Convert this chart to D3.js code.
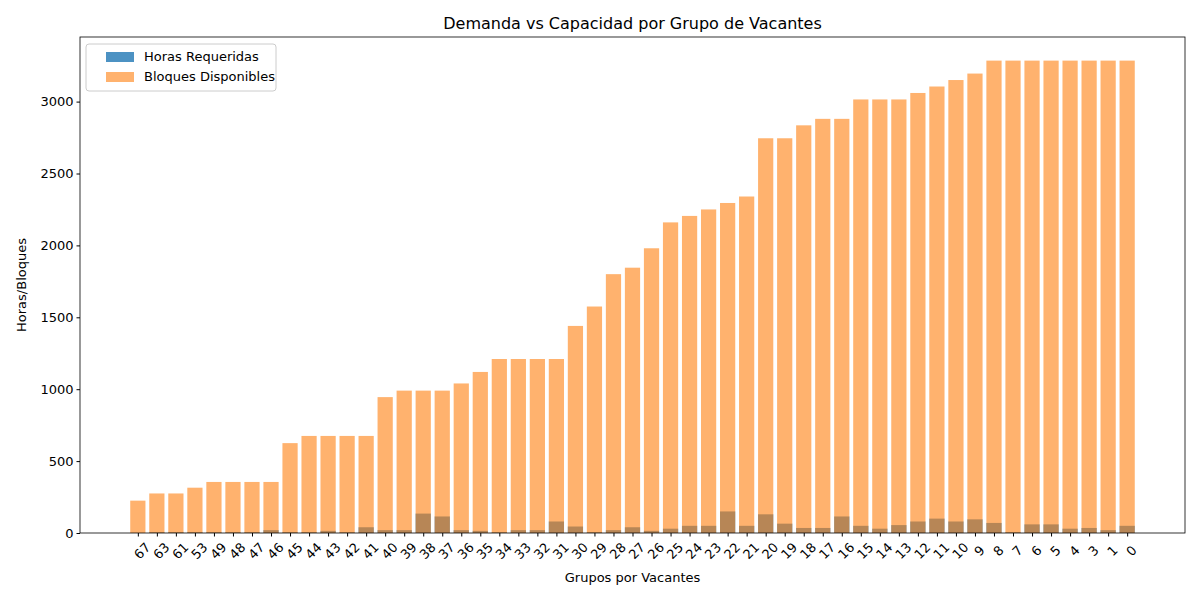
<!DOCTYPE html>
<html lang="es">
<head>
<meta charset="UTF-8">
<title>Demanda vs Capacidad</title>
<script src="https://cdn.jsdelivr.net/npm/d3@7"></script>
</head>
<body style="margin:0;padding:0;background:#fff">
<svg id="chart" width="1200" height="600"></svg>
<script>
var grupos = ["67","63","61","53","49","48","47","46","45","44","43","42","41","40","39","38","37","36","35","34","33","32","31","30","29","28","27","26","25","24","23","22","21","20","19","18","17","16","15","14","13","12","11","10","9","8","7","6","5","4","3","1","0"];
var horasRequeridas = [0,5,5,5,5,5,5,20,5,5,15,5,40,20,20,135,115,20,15,5,20,20,80,45,5,20,40,15,30,50,50,150,50,130,65,35,35,115,50,30,55,80,100,80,95,70,5,60,60,30,35,20,50];
var bloquesDisponibles = [225,275,275,315,355,355,355,355,625,675,675,675,675,945,990,990,990,1040,1120,1210,1210,1210,1210,1440,1575,1800,1845,1980,2160,2205,2250,2295,2340,2745,2745,2835,2880,2880,3015,3015,3015,3060,3105,3150,3195,3285,3285,3285,3285,3285,3285,3285,3285];
var yTicks = [0,500,1000,1500,2000,2500,3000];

var svg = d3.select("#chart");
var mLeft = 80, mRight = 1185, mTop = 37, mBottom = 533;
var n = grupos.length;
var span = (n - 1 + 0.8);
var x = d3.scaleLinear().domain([-0.4 - span*0.05, n - 1 + 0.4 + span*0.05]).range([mLeft, mRight]);
var y = d3.scaleLinear().domain([0, d3.max(bloquesDisponibles) * 1.05]).range([mBottom, mTop]);
var bw = x(0.8) - x(0);

svg.append("g").selectAll("rect").data(horasRequeridas).join("rect")
    .attr("x", function(d, i) { return x(i - 0.4); })
    .attr("width", bw)
    .attr("y", function(d) { return y(d); })
    .attr("height", function(d) { return mBottom - y(d); })
    .attr("fill", "#1f77b4").attr("fill-opacity", 0.8);

svg.append("g").selectAll("rect").data(bloquesDisponibles).join("rect")
    .attr("x", function(d, i) { return x(i - 0.4); })
    .attr("width", bw)
    .attr("y", function(d) { return y(d); })
    .attr("height", function(d) { return mBottom - y(d); })
    .attr("fill", "#ff7f0e").attr("fill-opacity", 0.6);

// axes
var xAxis = d3.axisBottom(x).tickValues(d3.range(n)).tickFormat(function(i) { return grupos[i]; }).tickSize(3.5).tickSizeOuter(0);
var gx = svg.append("g").attr("transform", "translate(0," + mBottom + ")").call(xAxis);
gx.select(".domain").remove();
gx.selectAll("text").attr("font-family", "DejaVu Sans").attr("font-size", 13).attr("fill", "#000")
    .attr("text-anchor", "middle")
    .attr("transform", "translate(-4,10) rotate(-45)");

var gy = svg.append("g").attr("transform", "translate(" + mLeft + ",0)")
    .call(d3.axisLeft(y).tickValues(yTicks).tickFormat(d3.format("d")).tickSize(3.5).tickSizeOuter(0));
gy.select(".domain").remove();
gy.selectAll("text").attr("font-family", "DejaVu Sans").attr("font-size", 13).attr("fill", "#000");

svg.append("rect").attr("x", mLeft).attr("y", mTop).attr("width", mRight - mLeft).attr("height", mBottom - mTop)
    .attr("fill", "none").attr("stroke", "#000").attr("stroke-width", 0.8);

svg.append("text").attr("x", (mLeft + mRight) / 2).attr("y", 29).attr("text-anchor", "middle")
    .attr("font-family", "DejaVu Sans").attr("font-size", 16).text("Demanda vs Capacidad por Grupo de Vacantes");
svg.append("text").attr("x", (mLeft + mRight) / 2).attr("y", 582).attr("text-anchor", "middle")
    .attr("font-family", "DejaVu Sans").attr("font-size", 13).text("Grupos por Vacantes");
svg.append("text").attr("transform", "translate(26," + ((mTop + mBottom) / 2) + ") rotate(-90)").attr("text-anchor", "middle")
    .attr("font-family", "DejaVu Sans").attr("font-size", 13).text("Horas/Bloques");

// legend
var lg = svg.append("g").attr("transform", "translate(86,44)");
lg.append("rect").attr("width", 190).attr("height", 47).attr("rx", 3).attr("fill", "#fff").attr("fill-opacity", 0.8).attr("stroke", "#ccc");
[["Horas Requeridas", "#1f77b4", 0.8], ["Bloques Disponibles", "#ff7f0e", 0.6]].forEach(function(e, i) {
    lg.append("rect").attr("x", 20).attr("y", 8 + i * 20).attr("width", 28).attr("height", 10).attr("fill", e[1]).attr("fill-opacity", e[2]);
    lg.append("text").attr("x", 58).attr("y", 17 + i * 20).attr("font-family", "DejaVu Sans").attr("font-size", 13).text(e[0]);
});
</script>
</body>
</html>
